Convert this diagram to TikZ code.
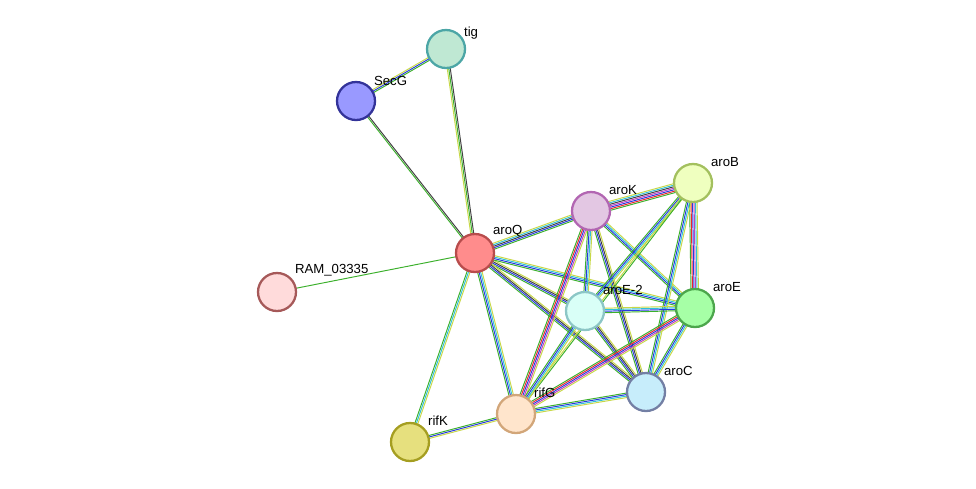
\documentclass[tikz,border=0pt]{standalone}
\usepackage{fontspec}
\setmainfont{Liberation Sans}
\definecolor{nbh}{HTML}{3CB02C}
\definecolor{fus}{HTML}{E8282C}
\definecolor{cooc}{HTML}{2838E0}
\definecolor{coex}{HTML}{404040}
\definecolor{expt}{HTML}{C040C0}
\definecolor{dbase}{HTML}{30C0D8}
\definecolor{tmine}{HTML}{C8D848}
\tikzstyle{prot} = [draw, circle, line width=1.3pt, inner sep=0pt, minimum size=0.76cm]
\tikzstyle{plabel} = [font=\fontsize{7.5}{9}\selectfont, inner sep=1pt]
\usetikzlibrary{calc, backgrounds}
% parallel evidence lines between two nodes: from, to, count, colours
\newcommand\strlink[4]{%
  \foreach \c [count=\i] in {#4} {%
    \pgfmathsetmacro\off{(\i-(#3+1)/2)*0.85}
    \draw[\c, line width=0.55pt] ($(#1)!\off pt!90:(#2)$) -- ($(#2)!\off pt!-90:(#1)$);
  }}

\begin{document}
\begin{tikzpicture}[x=0.02cm, y=-0.02cm]
	\useasboundingbox (0,0) rectangle (976,488);
	%proteins
	\node[prot, fill=cyan!30!green!25!white, draw=teal!70] (tig) at (446,49) {};
	\node[prot, fill=blue!40!white, draw=blue!50!black!80] (SecG) at (356,101) {};
	\node[prot, fill=red!45!white, draw=red!60!black!70] (aroQ) at (475,253) {};
	\node[prot, fill=pink!70!red!30!white, draw=red!30!gray] (RAM) at (277,292) {};
	\node[prot, fill=violet!22!white, draw=violet!60] (aroK) at (591,211) {};
	\node[prot, fill=lime!25!white, draw=olive!60!green!60] (aroB) at (693,183) {};
	\node[prot, fill=green!20!cyan!15!white, draw=teal!45] (aroE2) at (585,311) {};
	\node[prot, fill=green!35!white, draw=green!50!black!70] (aroE) at (695,308) {};
	\node[prot, fill=cyan!22!white, draw=cyan!40!blue!40!gray] (aroC) at (646,392) {};
	\node[prot, fill=orange!20!white, draw=brown!70] (rifG) at (516,414) {};
	\node[prot, fill=yellow!50!olive!45!white, draw=olive!80] (rifK) at (410,442) {};

	%names
	\node[plabel, anchor=south west] at ($(tig)+(16,-8)$) {tig};
	\node[plabel, anchor=south west] at ($(SecG)+(16,-13)$) {SecG};
	\node[plabel, anchor=south west] at ($(aroQ)+(16,-14)$) {aroQ};
	\node[plabel, anchor=south west] at ($(RAM)+(16,-14)$) {RAM\_03335};
	\node[plabel, anchor=south west] at ($(aroK)+(16,-14)$) {aroK};
	\node[plabel, anchor=south west] at ($(aroB)+(16,-14)$) {aroB};
	\node[plabel, anchor=south west] at ($(aroE2)+(16,-14)$) {aroE-2};
	\node[plabel, anchor=south west] at ($(aroE)+(16,-14)$) {aroE};
	\node[plabel, anchor=south west] at ($(aroC)+(16,-14)$) {aroC};
	\node[plabel, anchor=south west] at ($(rifG)+(16,-14)$) {rifG};
	\node[plabel, anchor=south west] at ($(rifK)+(16,-14)$) {rifK};

	%evidence
	\begin{pgfonlayer}{background}
	\strlink{tig}{aroQ}{3}{tmine,nbh,coex}
	\strlink{SecG}{tig}{3}{nbh,cooc,tmine}
	\strlink{SecG}{aroQ}{2}{nbh,coex}
	\strlink{aroQ}{RAM}{1}{nbh}
	\strlink{aroQ}{rifK}{3}{nbh,dbase,tmine}
	\strlink{rifK}{rifG}{3}{tmine,cooc,nbh}
	\strlink{aroQ}{aroK}{5}{nbh,cooc,coex,dbase,tmine}
	\strlink{aroQ}{aroE2}{4}{nbh,cooc,coex,tmine}
	\strlink{aroQ}{aroE}{4}{nbh,cooc,dbase,tmine}
	\strlink{aroQ}{aroC}{4}{nbh,cooc,coex,tmine}
	\strlink{aroQ}{rifG}{4}{nbh,cooc,dbase,tmine}
	\strlink{aroK}{aroB}{7}{nbh,fus,cooc,expt,coex,dbase,tmine}
	\strlink{aroK}{aroE2}{4}{nbh,cooc,dbase,tmine}
	\strlink{aroK}{aroE}{4}{nbh,cooc,dbase,tmine}
	\strlink{aroK}{aroC}{4}{nbh,cooc,coex,tmine}
	\strlink{aroK}{rifG}{5}{nbh,fus,cooc,expt,tmine}
	\strlink{aroB}{aroE2}{4}{nbh,cooc,dbase,tmine}
	\strlink{aroB}{aroE}{6}{nbh,fus,cooc,expt,dbase,tmine}
	\strlink{aroB}{aroC}{4}{nbh,cooc,dbase,tmine}
	\strlink{aroB}{rifG}{2}{tmine,nbh}
	\strlink{aroE2}{aroE}{4}{nbh,cooc,dbase,tmine}
	\strlink{aroE2}{aroC}{4}{nbh,cooc,coex,tmine}
	\strlink{aroE2}{rifG}{4}{nbh,cooc,dbase,tmine}
	\strlink{aroE}{aroC}{4}{nbh,cooc,dbase,tmine}
	\strlink{aroE}{rifG}{5}{nbh,fus,cooc,expt,tmine}
	\strlink{aroC}{rifG}{4}{nbh,cooc,dbase,tmine}
	\end{pgfonlayer}
\end{tikzpicture}
\end{document}
